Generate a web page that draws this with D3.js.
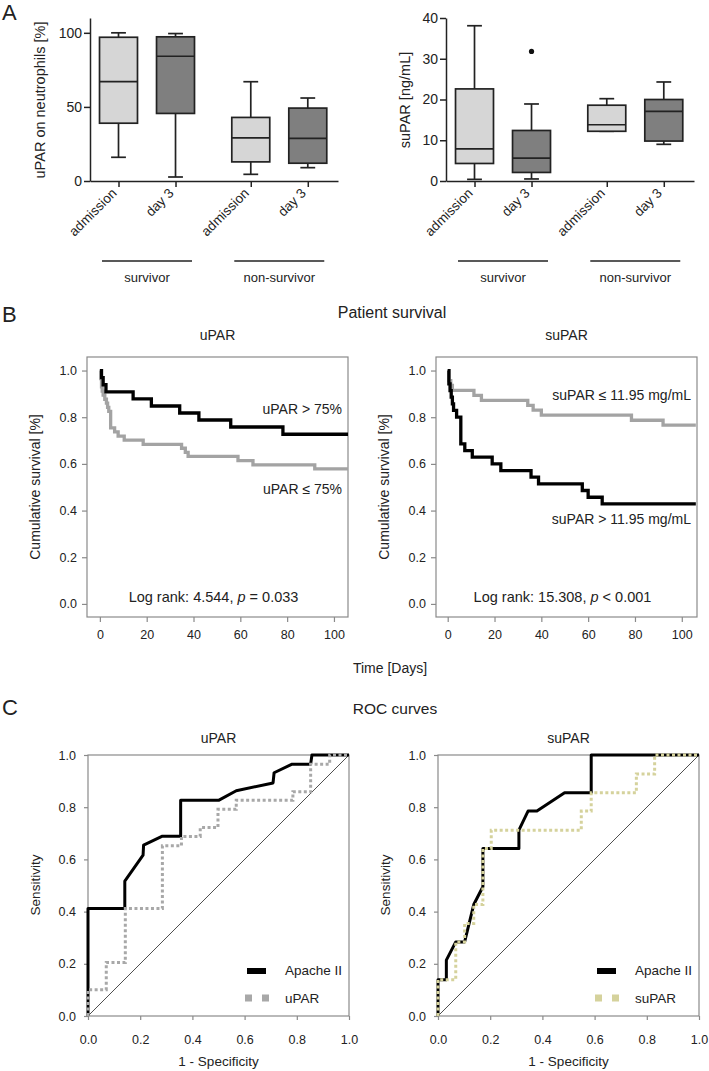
<!DOCTYPE html>
<html>
<head>
<meta charset="utf-8">
<script src="https://cdn.jsdelivr.net/npm/d3@7"></script>
<style>
  body { margin: 0; background: #fff; }
  text { font-family: "Liberation Sans", Arial, sans-serif; fill: #222; }
</style>
</head>
<body>
<svg id="fig" width="709" height="1071"></svg>
<script>
// ---------- data ----------
const boxGroups = ["survivor", "non-survivor"];
const boxTimes = ["admission", "day 3"];
// [whisker low, q1, median, q3, whisker high]
const uparBoxes = [[16, 39, 67, 97, 100], [2.7, 45.6, 84.2, 97.3, 99.5], [4.5, 12.9, 29.1, 42.9, 67], [9, 12, 28.7, 49.2, 56]];
const suparBoxes = [[0.4, 4.3, 7.9, 22.6, 38.1], [0.5, 2.1, 5.6, 12.4, 18.9], [12.2, 12.2, 13.8, 18.6, 20.2], [9, 9.8, 17.1, 20, 24.3]];
const suparOutlierBox = [1];
const suparOutlierValue = [31.8];
const uparTicks = [0, 50, 100];
const suparTicks = [0, 10, 20, 30, 40];

// Kaplan-Meier steps (day, cumulative survival)
const kmUparHighDays = [0, 0.7, 1.4, 2.6, 14.2, 22, 34.1, 42.3, 55.9, 78.2, 106];
const kmUparHighSurv = [1, 0.970, 0.939, 0.909, 0.879, 0.848, 0.818, 0.788, 0.758, 0.727, 0.727];
const kmUparLowDays = [0, 0.4, 0.7, 1.0, 1.4, 2.1, 2.8, 3.3, 3.8, 4.6, 6.3, 7.8, 10.4, 18.5, 34.9, 36.5, 37.7, 59, 65.4, 91.8, 106];
const kmUparLowSurv = [1, 0.965, 0.930, 0.912, 0.895, 0.877, 0.860, 0.842, 0.825, 0.754, 0.737, 0.719, 0.702, 0.684, 0.667, 0.649, 0.632, 0.614, 0.596, 0.579, 0.579];
const kmSuparHighDays = [0, 0.5, 1, 1.5, 2, 2.5, 3.8, 5.6, 7.3, 10.5, 19, 22.7, 35.6, 38.8, 57.5, 60, 66, 106];
const kmSuparHighSurv = [1, 0.943, 0.914, 0.886, 0.857, 0.829, 0.800, 0.686, 0.657, 0.629, 0.600, 0.571, 0.543, 0.514, 0.486, 0.457, 0.429, 0.429];
const kmSuparLowDays = [0, 0.6, 1.3, 2.0, 11.2, 14.4, 34.2, 36.5, 40, 78.5, 92, 106];
const kmSuparLowSurv = [1, 0.957, 0.936, 0.915, 0.894, 0.872, 0.851, 0.830, 0.809, 0.787, 0.766, 0.766];
const kmTicksX = [0, 20, 40, 60, 80, 100];
const unitTicks = [0, 0.2, 0.4, 0.6, 0.8, 1.0];

// ROC curves (1 - specificity, sensitivity)
const rocApacheUFpr = [0, 0, 0.141, 0.141, 0.211, 0.213, 0.285, 0.355, 0.355, 0.502, 0.568, 0.709, 0.713, 0.782, 0.853, 0.858, 1];
const rocApacheUTpr = [0, 0.412, 0.412, 0.517, 0.616, 0.655, 0.689, 0.689, 0.827, 0.827, 0.863, 0.893, 0.932, 0.965, 0.965, 1, 1];
const rocUparFpr = [0, 0, 0.070, 0.070, 0.143, 0.143, 0.285, 0.285, 0.358, 0.358, 0.430, 0.430, 0.498, 0.498, 0.568, 0.568, 0.785, 0.785, 0.853, 0.853, 0.926, 0.926, 1];
const rocUparTpr = [0, 0.101, 0.101, 0.205, 0.205, 0.412, 0.412, 0.652, 0.652, 0.688, 0.688, 0.722, 0.722, 0.792, 0.792, 0.827, 0.827, 0.859, 0.859, 0.965, 0.965, 1, 1];
const rocApacheSFpr = [0, 0, 0.032, 0.032, 0.068, 0.102, 0.137, 0.172, 0.172, 0.310, 0.310, 0.345, 0.379, 0.485, 0.587, 0.587, 1];
const rocApacheSTpr = [0, 0.139, 0.139, 0.214, 0.284, 0.284, 0.427, 0.495, 0.642, 0.642, 0.712, 0.785, 0.785, 0.855, 0.855, 1, 1];
const rocSuparFpr = [0, 0, 0.068, 0.068, 0.102, 0.102, 0.137, 0.137, 0.172, 0.172, 0.204, 0.204, 0.549, 0.549, 0.587, 0.587, 0.760, 0.760, 0.830, 0.830, 1];
const rocSuparTpr = [0, 0.139, 0.139, 0.284, 0.284, 0.354, 0.354, 0.427, 0.427, 0.642, 0.642, 0.712, 0.712, 0.785, 0.785, 0.855, 0.855, 0.927, 0.927, 1, 1];

const zip = (a, b) => a.map((v, i) => [v, b[i]]);
const svg = d3.select('#fig');
const FONT = '"Liberation Sans", Arial, sans-serif';

function styleAxis(a, color, width, size) {
  a.attr('font-family', FONT).attr('font-size', size);
  a.selectAll('path, line').attr('stroke', color).attr('stroke-width', width);
  a.selectAll('text').attr('fill', '#222');
}

// ---------- panel letters and headings ----------
svg.append('text').attr('x', 2).attr('y', 20).attr('font-size', 22).text('A');
svg.append('text').attr('x', 2).attr('y', 322).attr('font-size', 22).text('B');
svg.append('text').attr('x', 2).attr('y', 715).attr('font-size', 22).text('C');
svg.append('text').attr('x', 392).attr('y', 318).attr('text-anchor', 'middle').attr('font-size', 16).text('Patient survival');
svg.append('text').attr('x', 390).attr('y', 673).attr('text-anchor', 'middle').attr('font-size', 14).text('Time [Days]');
svg.append('text').attr('x', 395).attr('y', 714).attr('text-anchor', 'middle').attr('font-size', 15.5).text('ROC curves');

// ---------- A: box plots ----------
function boxPanel(left, boxes, yMax, ticks, yLabel, labelX, outBox, outVal) {
  const g = svg.append('g');
  const x = d3.scaleLinear().domain([-0.5, 3.85]).range([left, left + 248]);
  const y = d3.scaleLinear().domain([0, yMax]).range([181, 18]);
  const pos = boxGroups.flatMap((gr, gi) => boxTimes.map((t, ti) => gi * 2.32 + ti));

  const ya = g.append('g').attr('transform', `translate(${left},0)`)
    .call(d3.axisLeft(y).tickValues(ticks).tickSize(6).tickSizeOuter(0).tickPadding(2));
  styleAxis(ya, '#222', 1.5, 14);
  const xa = g.append('g').attr('transform', 'translate(0,181)')
    .call(d3.axisBottom(x).tickValues(pos).tickFormat('').tickSize(6).tickSizeOuter(0));
  styleAxis(xa, '#222', 1.5, 14);

  const unit = x(1) - x(0);
  const half = unit * 0.333, cap = unit * 0.13;
  boxes.forEach((b, i) => {
    const cx = x(pos[i]);
    const fill = i % 2 === 0 ? '#d6d6d6' : '#7f7f7f';
    const st = el => el.attr('stroke', '#222').attr('stroke-width', 1.7);
    st(g.append('line').attr('x1', cx).attr('x2', cx).attr('y1', y(b[0])).attr('y2', y(b[4])));
    st(g.append('line').attr('x1', cx - cap).attr('x2', cx + cap).attr('y1', y(b[0])).attr('y2', y(b[0])));
    st(g.append('line').attr('x1', cx - cap).attr('x2', cx + cap).attr('y1', y(b[4])).attr('y2', y(b[4])));
    st(g.append('rect').attr('x', cx - half).attr('y', y(b[3])).attr('width', half * 2)
      .attr('height', y(b[1]) - y(b[3])).attr('fill', fill));
    st(g.append('line').attr('x1', cx - half).attr('x2', cx + half).attr('y1', y(b[2])).attr('y2', y(b[2])));
    g.append('text').attr('transform', `translate(${cx - 1},194) rotate(-45)`)
      .attr('text-anchor', 'end').attr('font-size', 13.5).text(boxTimes[i % 2]);
  });
  outBox.forEach((bi, k) => {
    g.append('circle').attr('cx', x(pos[bi])).attr('cy', y(outVal[k])).attr('r', 2.6).attr('fill', '#111');
  });
  boxGroups.forEach((name, gi) => {
    const mid = x(gi * 2.32 + 0.5);
    g.append('line').attr('x1', mid - 45).attr('x2', mid + 45).attr('y1', 261).attr('y2', 261)
      .attr('stroke', '#222').attr('stroke-width', 1.3);
    g.append('text').attr('x', mid).attr('y', 282).attr('text-anchor', 'middle').attr('font-size', 13).text(name);
  });
  g.append('text').attr('transform', `translate(${labelX},100) rotate(-90)`)
    .attr('text-anchor', 'middle').attr('font-size', 14.5).text(yLabel);
}
boxPanel(90, uparBoxes, 110, uparTicks, 'uPAR on neutrophils [%]', 45, [], []);
boxPanel(446, suparBoxes, 40, suparTicks, 'suPAR [ng/mL]', 410, suparOutlierBox, suparOutlierValue);

// ---------- B: Kaplan-Meier ----------
function kmPanel(left, dayMin, title, curves, notes, stat, pText) {
  const g = svg.append('g');
  const w = 261, top = 357, bottom = 617;
  const x = d3.scaleLinear().domain([dayMin, dayMin + 111.5]).range([left, left + w]);
  const y = d3.scaleLinear().domain([-0.056, 1.058]).range([bottom, top]);
  g.append('rect').attr('x', left).attr('y', top).attr('width', w).attr('height', bottom - top)
    .attr('fill', 'none').attr('stroke', '#8a8a8a').attr('stroke-width', 1.2);
  const ya = g.append('g').attr('transform', `translate(${left},0)`)
    .call(d3.axisLeft(y).tickValues(unitTicks).tickFormat(d3.format('.1f')).tickSize(5).tickPadding(5));
  ya.select('.domain').remove();
  styleAxis(ya, '#8a8a8a', 1.2, 12.5);
  const xa = g.append('g').attr('transform', `translate(0,${bottom})`)
    .call(d3.axisBottom(x).tickValues(kmTicksX).tickSize(5).tickPadding(8));
  xa.select('.domain').remove();
  styleAxis(xa, '#8a8a8a', 1.2, 12.5);

  const line = d3.line().x(d => x(d[0])).y(d => y(d[1])).curve(d3.curveStepAfter);
  curves.forEach(c => {
    g.append('path').datum(zip(c.days, c.surv)).attr('d', line)
      .attr('fill', 'none').attr('stroke', c.color).attr('stroke-width', 3.3);
  });
  notes.forEach(n => {
    g.append('text').attr('x', left + w - 6).attr('y', n.y).attr('text-anchor', 'end')
      .attr('font-size', 14).text(n.text);
  });
  g.append('text').attr('x', left + w / 2).attr('y', 340).attr('text-anchor', 'middle')
    .attr('font-size', 14).text(title);
  const lr = g.append('text').attr('x', left + w / 2 - 4).attr('y', 602).attr('text-anchor', 'middle').attr('font-size', 14.5);
  lr.append('tspan').text(`Log rank: ${stat}, `);
  lr.append('tspan').attr('font-style', 'italic').text('p');
  lr.append('tspan').text(` ${pText}`);
  g.append('text').attr('transform', `translate(${left - 47},487) rotate(-90)`)
    .attr('text-anchor', 'middle').attr('font-size', 14).text('Cumulative survival [%]');
}
kmPanel(87, -5.5, 'uPAR',
  [{ days: kmUparLowDays, surv: kmUparLowSurv, color: '#a3a3a3' },
   { days: kmUparHighDays, surv: kmUparHighSurv, color: '#000' }],
  [{ text: 'uPAR > 75%', y: 414 }, { text: 'uPAR \u2264 75%', y: 494 }],
  '4.544', '= 0.033');
kmPanel(436, -5, 'suPAR',
  [{ days: kmSuparLowDays, surv: kmSuparLowSurv, color: '#a3a3a3' },
   { days: kmSuparHighDays, surv: kmSuparHighSurv, color: '#000' }],
  [{ text: 'suPAR \u2264 11.95 mg/mL', y: 400 }, { text: 'suPAR > 11.95 mg/mL', y: 524 }],
  '15.308', '< 0.001');

// ---------- C: ROC ----------
function rocPanel(left, title, solid, dotted, dotColor, dotName) {
  const g = svg.append('g');
  const w = 261, top = 755, bottom = 1016;
  const x = d3.scaleLinear().domain([0, 1]).range([left, left + w]);
  const y = d3.scaleLinear().domain([0, 1]).range([bottom, top]);
  g.append('rect').attr('x', left).attr('y', top).attr('width', w).attr('height', bottom - top)
    .attr('fill', 'none').attr('stroke', '#8a8a8a').attr('stroke-width', 1.2);
  const ya = g.append('g').attr('transform', `translate(${left},0)`)
    .call(d3.axisLeft(y).tickValues(unitTicks).tickFormat(d3.format('.1f')).tickSize(4).tickPadding(8));
  ya.select('.domain').remove();
  styleAxis(ya, '#8a8a8a', 1.2, 12.5);
  const xa = g.append('g').attr('transform', `translate(0,${bottom})`)
    .call(d3.axisBottom(x).tickValues(unitTicks).tickFormat(d3.format('.1f')).tickSize(4).tickPadding(15));
  xa.select('.domain').remove();
  styleAxis(xa, '#8a8a8a', 1.2, 12.5);

  g.append('line').attr('x1', x(0)).attr('y1', y(0)).attr('x2', x(1)).attr('y2', y(1))
    .attr('stroke', '#222').attr('stroke-width', 0.8);
  const line = d3.line().x(d => x(d[0])).y(d => y(d[1]));
  g.append('path').datum(solid).attr('d', line).attr('fill', 'none')
    .attr('stroke', '#000').attr('stroke-width', 3).attr('stroke-linejoin', 'round');
  g.append('path').datum(dotted).attr('d', line).attr('fill', 'none')
    .attr('stroke', dotColor).attr('stroke-width', 3).attr('stroke-dasharray', '3,2.5');

  // legend
  g.append('line').attr('x1', left + 159).attr('x2', left + 178).attr('y1', 971).attr('y2', 971)
    .attr('stroke', '#000').attr('stroke-width', 6);
  g.append('text').attr('x', left + 197).attr('y', 975).attr('font-size', 13.5).text('Apache II');
  g.append('line').attr('x1', left + 157).attr('x2', left + 181).attr('y1', 998).attr('y2', 998)
    .attr('stroke', dotColor).attr('stroke-width', 7).attr('stroke-dasharray', '7,10');
  g.append('text').attr('x', left + 197).attr('y', 1003).attr('font-size', 13.5).text(dotName);

  g.append('text').attr('x', left + w / 2).attr('y', 743).attr('text-anchor', 'middle').attr('font-size', 14).text(title);
  g.append('text').attr('x', left + w / 2).attr('y', 1066).attr('text-anchor', 'middle').attr('font-size', 13.5).text('1 - Specificity');
  g.append('text').attr('transform', `translate(${left - 48},885) rotate(-90)`)
    .attr('text-anchor', 'middle').attr('font-size', 13.5).text('Sensitivity');
}
rocPanel(88, 'uPAR', zip(rocApacheUFpr, rocApacheUTpr), zip(rocUparFpr, rocUparTpr), '#a8a8a8', 'uPAR');
rocPanel(438, 'suPAR', zip(rocApacheSFpr, rocApacheSTpr), zip(rocSuparFpr, rocSuparTpr), '#d5d29c', 'suPAR');
</script>
</body>
</html>
